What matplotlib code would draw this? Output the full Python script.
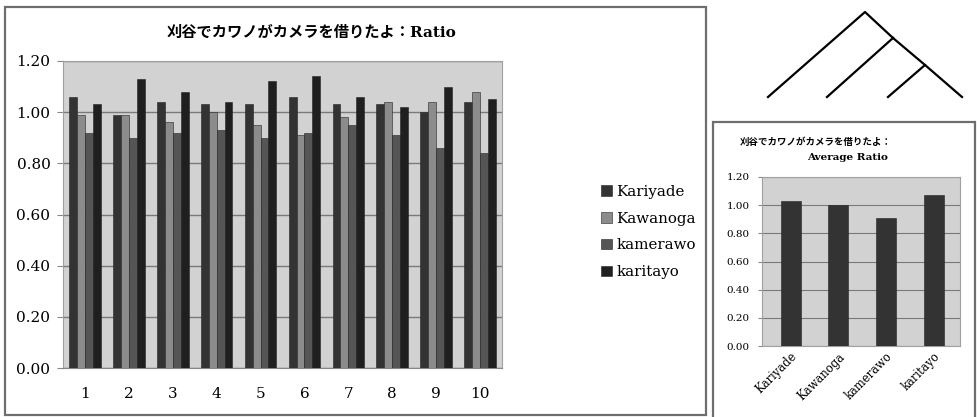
import matplotlib.pyplot as plt
import numpy as np
from matplotlib.patches import Rectangle

plt.rcParams['font.family'] = ['DejaVu Serif', 'Noto Sans CJK JP']

series = ['Kariyade', 'Kawanoga', 'kamerawo', 'karitayo']
trials = [str(i) for i in range(1, 11)]
kariyade = [1.06, 0.99, 1.04, 1.03, 1.03, 1.06, 1.03, 1.03, 1.00, 1.04]
kawanoga = [0.99, 0.99, 0.96, 1.00, 0.95, 0.91, 0.98, 1.04, 1.04, 1.08]
kamerawo = [0.92, 0.90, 0.92, 0.93, 0.90, 0.92, 0.95, 0.91, 0.86, 0.84]
karitayo = [1.03, 1.13, 1.08, 1.04, 1.12, 1.14, 1.06, 1.02, 1.10, 1.05]
averages = [1.03, 1.00, 0.91, 1.07]
colors = ['#333333', '#8c8c8c', '#555555', '#1f1f1f']
yticks = [0.0, 0.2, 0.4, 0.6, 0.8, 1.0, 1.2]

W, H = 978, 417
fig = plt.figure(figsize=(W / 100, H / 100), dpi=100)

def px(x, y, w, h):
    return [x / W, 1 - (y + h) / H, w / W, h / H]

# panel frames
fig.patches.append(Rectangle((5 / W, 1 - 415 / H), 701 / W, 408 / H, transform=fig.transFigure,
                             fill=False, edgecolor='#6e6e6e', linewidth=1.6))
fig.patches.append(Rectangle((713 / W, 1 - 420 / H), 262 / W, 298 / H, transform=fig.transFigure,
                             fill=False, edgecolor='#6e6e6e', linewidth=1.6))

# main chart
ax = fig.add_axes(px(63, 61, 439, 307))
ax.set_facecolor('#d2d2d2')
x = np.arange(len(trials))
bw = 0.18
allvals = [kariyade, kawanoga, kamerawo, karitayo]
for i, (name, vals) in enumerate(zip(series, allvals)):
    ax.bar(x + (i - 1.5) * bw, vals, bw, color=colors[i], edgecolor='#222222',
           linewidth=0.4, label=name, zorder=3)
ax.set_xlim(-0.5, len(trials) - 0.5)
ax.set_ylim(0, 1.2)
ax.set_yticks(yticks)
ax.set_yticklabels([f'{v:.2f}' for v in yticks], fontsize=11)
ax.set_xticks(x)
ax.set_xticklabels(trials, fontsize=11)
ax.yaxis.grid(True, color='#7a7a7a', linewidth=1.0, zorder=1)
ax.tick_params(axis='y', length=4, pad=5, color='#888888')
ax.tick_params(axis='x', length=0, pad=14)
for s in ax.spines.values():
    s.set_color('#a0a0a0')
ax.spines['bottom'].set_color('#888888')
fig.text(311 / W, 1 - 32 / H, '刈谷でカワノがカメラを借りたよ：Ratio', ha='center', va='center',
         fontsize=11, fontweight='bold')
ax.legend(loc='center left', bbox_to_anchor=(588 / W, 1 - 232 / H), bbox_transform=fig.transFigure,
          frameon=False, fontsize=10.8, handlelength=0.7, handleheight=0.7, handletextpad=0.3,
          labelspacing=0.85)

# average chart
ax2 = fig.add_axes(px(762, 177, 198, 169))
ax2.set_facecolor('#d2d2d2')
x2 = np.arange(len(series))
ax2.bar(x2, averages, 0.42, color='#333333', edgecolor='#222222', linewidth=0.4, zorder=3)
ax2.set_xlim(-0.6, len(series) - 0.45)
ax2.set_ylim(0, 1.2)
ax2.set_yticks(yticks)
ax2.set_yticklabels([f'{v:.2f}' for v in yticks], fontsize=7.5)
ax2.set_xticks(x2)
ax2.set_xticklabels(series, fontsize=8.3, rotation=45, ha='right', rotation_mode='anchor')
ax2.yaxis.grid(True, color='#7a7a7a', linewidth=0.8, zorder=1)
ax2.tick_params(axis='y', length=3, pad=6, color='#888888')
ax2.tick_params(axis='x', length=0, pad=3)
for s in ax2.spines.values():
    s.set_color('#a0a0a0')
fig.text(816 / W, 1 - 142 / H, '刈谷でカワノがカメラを借りたよ：', ha='center', va='center',
         fontsize=6.8, fontweight='bold')
fig.text(848 / W, 1 - 158 / H, 'Average Ratio', ha='center', va='center',
         fontsize=7.5, fontweight='bold')

# dendrogram over the four series
leaves = [768, 827, 888, 962]
joins = [(925, 65), (893, 38), (865, 12)]
axd = fig.add_axes([0, 0, 1, 1], zorder=-1)
axd.set_xlim(0, W)
axd.set_ylim(H, 0)
axd.axis('off')
axd.plot([leaves[2], joins[0][0], leaves[3]], [97, joins[0][1], 97], color='black', lw=1.6)
axd.plot([leaves[1], joins[1][0]], [97, joins[1][1]], color='black', lw=1.6)
axd.plot([leaves[0], joins[2][0], joins[1][0]], [97, joins[2][1], joins[1][1]], color='black', lw=1.6)
axd.plot([joins[1][0], joins[0][0]], [joins[1][1], joins[0][1]], color='black', lw=1.6)

fig.savefig('out.png', dpi=100)
